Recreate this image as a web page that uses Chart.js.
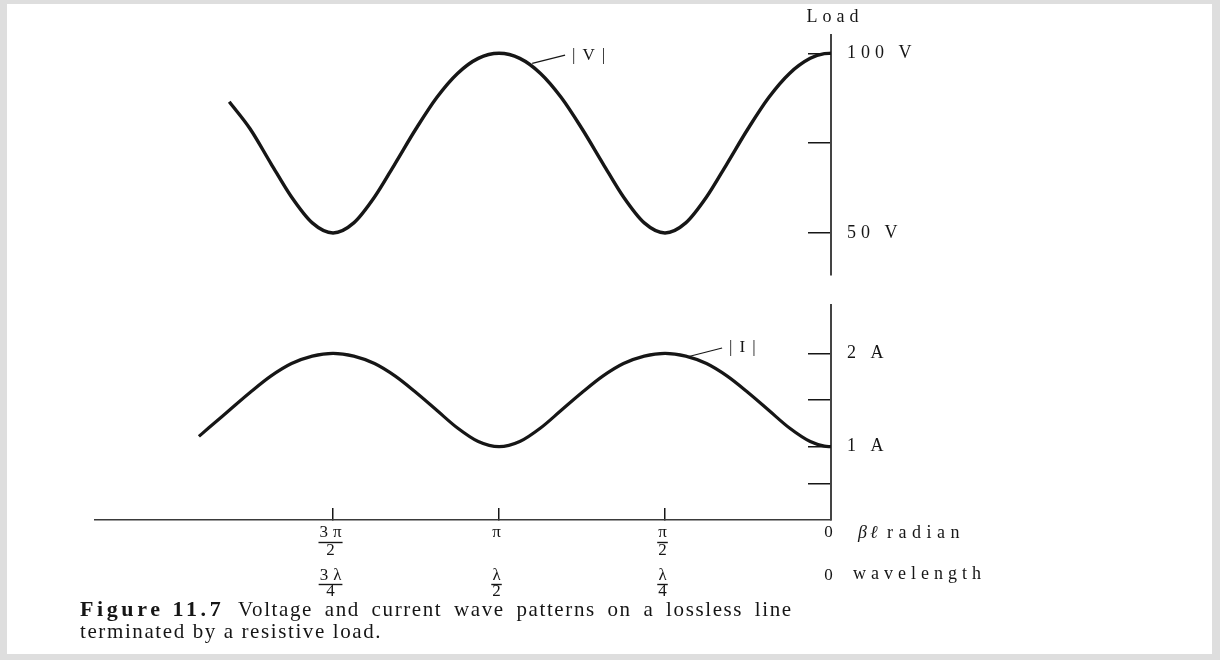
<!DOCTYPE html>
<html>
<head>
<meta charset="utf-8">
<script src="https://cdn.jsdelivr.net/npm/chart.js@4/dist/chart.umd.min.js"></script>
<style>
  html, body { margin: 0; padding: 0; background: #dedede; width: 1220px; height: 660px; overflow: hidden; }
  #panel { position: absolute; left: 7px; top: 4px; width: 1205px; height: 650px; background: #ffffff; }
  #wrap { position: absolute; left: 0; top: 0; width: 1220px; height: 600px; }
  #cap { position: absolute; left: 80px; top: 598px; font-family: "Liberation Serif", "DejaVu Serif", serif;
         font-size: 21px; line-height: 22px; letter-spacing: 1.6px; color: #151515; white-space: nowrap; }
  #cap b { font-size: 22px; letter-spacing: 3.6px; }
  #cap .l1 { word-spacing: 4.9px; }
</style>
</head>
<body>
<div id="panel"></div>
<div id="wrap"><canvas id="c" width="1220" height="600"></canvas></div>
<div id="cap"><b>Figure 11.7</b>&nbsp;&nbsp;<span class="l1">Voltage and current wave patterns on a lossless line</span><br>terminated by a resistive load.</div>
<script>
// ---- data (x in units of π, measured from the load) ----
const vX    = [0, 0.02, 0.0625, 0.125, 0.1875, 0.25, 0.3125, 0.375, 0.4375, 0.5, 0.5625, 0.625, 0.6875, 0.75, 0.8125, 0.875, 0.9375,
               1, 1.0625, 1.125, 1.1875, 1.25, 1.3125, 1.375, 1.4375, 1.5, 1.5625, 1.625, 1.6875, 1.75, 1.8125];
const vVals = [100, 99.9, 98.6, 94.4, 87.7, 79, 69.4, 60, 52.8, 50, 52.8, 60, 69.4, 79, 87.7, 94.4, 98.6,
               100, 98.6, 94.4, 87.7, 79, 69.4, 60, 52.8, 50, 52.8, 60, 69.4, 79, 86.5];
const iX    = [0, 0.02, 0.0625, 0.125, 0.1875, 0.25, 0.3125, 0.375, 0.4375, 0.5, 0.5625, 0.625, 0.6875, 0.75, 0.8125, 0.875, 0.9375,
               1, 1.0625, 1.125, 1.1875, 1.25, 1.3125, 1.375, 1.4375, 1.5, 1.5625, 1.625, 1.6875, 1.75, 1.8125, 1.875, 1.904];
const iVals = [1, 1.006, 1.055, 1.2, 1.39, 1.58, 1.755, 1.89, 1.97, 2, 1.97, 1.89, 1.755, 1.58, 1.39, 1.2, 1.055,
               1, 1.055, 1.2, 1.39, 1.58, 1.755, 1.89, 1.97, 2, 1.97, 1.89, 1.755, 1.58, 1.39, 1.2, 1.11];

const xTickVals   = [0, 0.5, 1, 1.5];
const radLabels   = [['0'], ['π', '2'], ['π'], ['3π', '2']];
const waveLabels  = [['0'], ['λ', '4'], ['λ', '2'], ['3λ', '4']];
const vTickVals   = [50, 75, 100];
const vTickLabels = ['50 V', '', '100 V'];
const iTickVals   = [0.6, 1, 1.5, 2];
const iTickLabels = ['', '1 A', '', '2 A'];
const seriesNames = ['|V|', '|I|'];
const axisTexts   = { load: 'Load', rad: 'radian', radSym: 'βℓ', wave: 'wavelength' };

// annotation anchors in data units: [x, y] on curve -> [x, y] label end
const vLeader = { from: [0.9, 97.2], to: [0.801, 99.5] };
const iLeader = { from: [0.434, 1.96], to: [0.328, 2.057] };

const FONT = "'Liberation Serif', 'DejaVu Serif', serif";
const INK = '#161616';
const X_TICK = -12, X_PAD = 16, X_LH = 18;
const X2_PAD = 8, X2_LH = 16;

const annot = {
  id: 'annot',
  beforeDraw(chart) { chart.ctx.letterSpacing = '5px'; },
  afterDraw(chart) {
    const { ctx, scales } = chart;
    const x = scales.x, x2 = scales.x2, yV = scales.yV, yI = scales.yI;
    ctx.save();
    ctx.fillStyle = INK; ctx.strokeStyle = INK;
    ctx.textBaseline = 'middle';

    // fraction bars under numerators
    const bars = (scale, labels, top, lh, size) => {
      ctx.font = `${size}px ${FONT}`;
      ctx.letterSpacing = '5px';
      ctx.lineWidth = 1.4;
      xTickVals.forEach((v, i) => {
        const lab = labels[i];
        if (lab.length < 2) return;
        const w = Math.max(...lab.map(t => ctx.measureText(t).width)) - 5;
        const px = scale.getPixelForValue(v) - 2.5;
        const y = Math.round(top + lh) + 0.5;
        ctx.beginPath(); ctx.moveTo(px - w / 2 - 1, y); ctx.lineTo(px + w / 2 + 1, y); ctx.stroke();
      });
    };
    bars(x, radLabels, x.top + X_TICK + X_PAD, X_LH, 17);
    bars(x2, waveLabels, x2.top + X2_PAD, X2_LH, 17);

    const x0 = x.getPixelForValue(0);
    // Load
    ctx.font = `18px ${FONT}`;
    ctx.letterSpacing = '5px';
    ctx.textAlign = 'center';
    ctx.fillText(axisTexts.load, x0 + 4, 17);

    // βℓ radian / wavelength
    ctx.textAlign = 'left';
    const radY = x.top + X_TICK + X_PAD + X_LH / 2;
    const waveY = x2.top + X2_PAD + X2_LH / 2;
    ctx.font = `italic 18px ${FONT}`;
    ctx.letterSpacing = '3px';
    ctx.fillText(axisTexts.radSym, x0 + 27, radY);
    ctx.font = `18px ${FONT}`;
    ctx.letterSpacing = '5.5px';
    ctx.fillText(axisTexts.rad, x0 + 56, radY);
    ctx.letterSpacing = '5px';
    ctx.fillText(axisTexts.wave, x0 + 22, waveY - 2);

    // leaders and curve names
    const leader = (L, sy, name) => {
      const a = [x.getPixelForValue(L.from[0]), sy.getPixelForValue(L.from[1])];
      const b = [x.getPixelForValue(L.to[0]), sy.getPixelForValue(L.to[1])];
      ctx.lineWidth = 1.2;
      ctx.beginPath(); ctx.moveTo(a[0], a[1]); ctx.lineTo(b[0], b[1]); ctx.stroke();
      ctx.font = `17px ${FONT}`;
      ctx.letterSpacing = '7px';
      ctx.fillText(name, b[0] + 7, b[1]);
    };
    leader(vLeader, yV, seriesNames[0]);
    leader(iLeader, yI, seriesNames[1]);
    ctx.restore();
  }
};

const pts = (xs, ys) => xs.map((v, i) => ({ x: v, y: ys[i] }));
const fixTicks = vals => s => { s.ticks = vals.map(v => ({ value: v })); };
const noPad = s => { s.paddingTop = 0; s.paddingBottom = 0; s.paddingLeft = 0; s.paddingRight = 0; };
const fitW = w => s => { s.width = w; noPad(s); };
const fitH = h => s => { s.height = h; noPad(s); };
const tickFont = { family: FONT, size: 17 };

new Chart(document.getElementById('c'), {
  type: 'line',
  data: {
    datasets: [
      { label: seriesNames[0], data: pts(vX, vVals), xAxisID: 'x', yAxisID: 'yV',
        borderColor: INK, borderWidth: 3.4, pointRadius: 0, cubicInterpolationMode: 'monotone', fill: false },
      { label: seriesNames[1], data: pts(iX, iVals), xAxisID: 'x', yAxisID: 'yI',
        borderColor: INK, borderWidth: 3.2, pointRadius: 0, cubicInterpolationMode: 'monotone', fill: false }
    ]
  },
  options: {
    responsive: false,
    animation: false,
    layout: { padding: { left: 95, top: 35, right: 0, bottom: 0 } },
    plugins: { legend: { display: false }, tooltip: { enabled: false } },
    scales: {
      x: {
        type: 'linear', position: 'bottom', reverse: true, min: 0, max: 2.217,
        afterBuildTicks: fixTicks(xTickVals),
        afterFit: fitH(40),
        ticks: { autoSkip: false, maxRotation: 0, padding: X_PAD, color: INK,
                 font: { ...tickFont, lineHeight: X_LH / 17 },
                 callback: (v, i) => radLabels[i] },
        grid: { drawOnChartArea: false, drawTicks: true, tickLength: X_TICK, lineWidth: 1.5,
                color: c => (c.tick && c.tick.value === 0) ? 'rgba(0,0,0,0)' : INK },
        border: { display: true, color: '#3a3a3a', width: 1.6 }
      },
      x2: {
        type: 'linear', position: 'bottom', reverse: true, min: 0, max: 2.217,
        afterBuildTicks: fixTicks(xTickVals),
        afterFit: fitH(40),
        ticks: { autoSkip: false, maxRotation: 0, padding: X2_PAD, color: INK,
                 font: { ...tickFont, lineHeight: X2_LH / 17 },
                 callback: (v, i) => waveLabels[i] },
        grid: { display: false, drawTicks: false, tickLength: 0 },
        border: { display: false }
      },
      yV: {
        type: 'linear', position: 'right', stack: 'v', stackWeight: 240, min: 38.3, max: 105.1,
        afterBuildTicks: fixTicks(vTickVals),
        afterFit: fitW(389),
        ticks: { padding: 39, color: INK, font: { family: FONT, size: 18 }, callback: (v, i) => vTickLabels[i] },
        grid: { drawOnChartArea: false, drawTicks: true, tickLength: -23, lineWidth: 1.5, color: INK },
        border: { display: true, color: '#444', width: 2 }
      },
      ySp: {
        type: 'linear', position: 'right', stack: 'v', stackWeight: 30, min: 0, max: 1,
        afterFit: fitW(389),
        ticks: { display: false }, grid: { display: false, drawTicks: false }, border: { display: false }
      },
      yI: {
        type: 'linear', position: 'right', stack: 'v', stackWeight: 215, min: 0.215, max: 2.517,
        afterBuildTicks: fixTicks(iTickVals),
        afterFit: fitW(389),
        ticks: { padding: 39, color: INK, font: { family: FONT, size: 18 }, callback: (v, i) => iTickLabels[i] },
        grid: { drawOnChartArea: false, drawTicks: true, tickLength: -23, lineWidth: 1.5, color: INK },
        border: { display: true, color: '#444', width: 2 }
      }
    }
  },
  plugins: [annot]
});
</script>
</body>
</html>
